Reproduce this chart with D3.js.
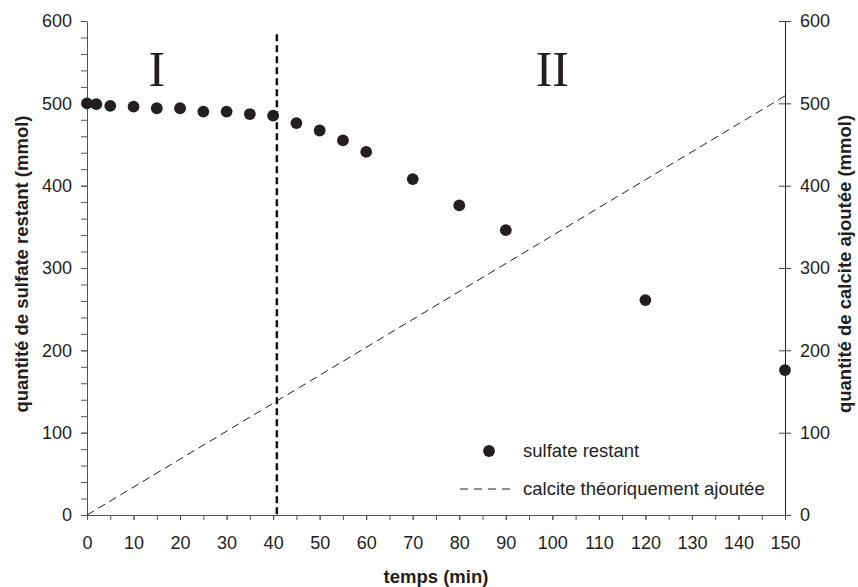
<!DOCTYPE html>
<html><head><meta charset="utf-8">
<script src="https://cdn.jsdelivr.net/npm/d3@7"></script>
<style>
body{margin:0;background:#fff;}
svg{display:block;}
.sans{font-family:"Liberation Sans",Arial,sans-serif;}
</style></head>
<body>
<svg id="chart" width="858" height="587"></svg>
<script>
// ---- data ----
const times = [0, 2, 5, 10, 15, 20, 25, 30, 35, 40, 45, 50, 55, 60, 70, 80, 90, 120, 150];
const sulfate = [500, 499, 497, 496, 494, 494, 490, 490, 487, 485, 476, 467, 455, 441, 408, 376, 346, 261, 176];
const calciteTimes = [0, 150];
const calcite = [0, 509];
const dividerTime = 40.8;
const dividerTop = 584;
const xTicks = [0, 10, 20, 30, 40, 50, 60, 70, 80, 90, 100, 110, 120, 130, 140, 150];
const yTicks = [0, 100, 200, 300, 400, 500, 600];
const phaseLabels = ["I", "II"];
const phaseX = [15, 100];
const legendLabels = ["sulfate restant", "calcite théoriquement ajoutée"];

const svg = d3.select("#chart");
const x = d3.scaleLinear().domain([0, 150]).range([87, 785]);
const y = d3.scaleLinear().domain([0, 600]).range([515, 21]);
const y2 = d3.scaleLinear().domain([0, 600]).range([515, 21]);

const axisColor = "#555";
const textColor = "#231f20";
const SANS = '"Liberation Sans",Arial,sans-serif';
const SERIF = '"Liberation Serif","DejaVu Serif",serif';

function styleText(g, size) {
  g.selectAll("text").attr("font-size", size).attr("fill", textColor).style("font-family", SANS);
}

// left axis minor ticks
const gLm = svg.append("g").attr("transform", `translate(${x(0)},0)`)
  .call(d3.axisLeft(y).tickValues(d3.range(0, 601, 20)).tickSize(6).tickFormat(""));
gLm.select(".domain").remove();
gLm.selectAll("line").attr("stroke", axisColor);
// left axis
const gL = svg.append("g").attr("transform", `translate(${x(0)},0)`)
  .call(d3.axisLeft(y).tickValues(yTicks).tickSize(6).tickPadding(9).tickSizeOuter(0));
gL.select(".domain").attr("stroke", axisColor);
gL.selectAll("line").attr("stroke", axisColor);
styleText(gL, 18);

// right axis
const gR = svg.append("g").attr("transform", `translate(${x(150)},0)`)
  .call(d3.axisRight(y2).tickValues(yTicks).tickSize(6).tickPadding(9).tickSizeOuter(0));
gR.select(".domain").attr("stroke", "#222");
gR.selectAll(".tick line").attr("x1", -6).attr("x2", 6).attr("stroke", "#444");
styleText(gR, 18);

// x axis minor
const gXm = svg.append("g").attr("transform", `translate(0,${y(0)})`)
  .call(d3.axisBottom(x).tickValues(d3.range(0, 151, 5)).tickSize(5).tickFormat(""));
gXm.select(".domain").remove();
gXm.selectAll("line").attr("stroke", axisColor);
// x axis
const gX = svg.append("g").attr("transform", `translate(0,${y(0)})`)
  .call(d3.axisBottom(x).tickValues(xTicks).tickSize(5).tickPadding(16).tickSizeOuter(0));
gX.select(".domain").attr("stroke", axisColor);
gX.selectAll("line").attr("stroke", axisColor);
styleText(gX, 18);

// axis titles
svg.append("text").attr("x", x(75)).attr("y", 583).attr("text-anchor", "middle")
  .style("font-family", SANS).attr("font-size", 18.5).attr("font-weight", "bold").attr("fill", textColor).text("temps (min)");
svg.append("text").attr("transform", `translate(28,264) rotate(-90)`)
  .attr("text-anchor", "middle").style("font-family", SANS).attr("font-size", 18.5).attr("font-weight", "bold").attr("fill", textColor)
  .text("quantité de sulfate restant (mmol)");
svg.append("text").attr("transform", `translate(851,264) rotate(-90)`)
  .attr("text-anchor", "middle").style("font-family", SANS).attr("font-size", 18.5).attr("font-weight", "bold").attr("fill", textColor)
  .text("quantité de calcite ajoutée (mmol)");

// calcite line
svg.append("path")
  .datum(calciteTimes.map((t, i) => [t, calcite[i]]))
  .attr("d", d3.line().x(d => x(d[0])).y(d => y2(d[1])))
  .attr("fill", "none").attr("stroke", "#231f20").attr("stroke-width", 1).attr("stroke-dasharray", "8,5");

// divider
svg.append("line").attr("x1", x(dividerTime)).attr("x2", x(dividerTime))
  .attr("y1", y(dividerTop)).attr("y2", y(0))
  .attr("stroke", "#111").attr("stroke-width", 2.5).attr("stroke-dasharray", "7,4");

// phase labels
svg.selectAll(".phase").data(phaseLabels).enter().append("text")
  .attr("x", (d, i) => x(phaseX[i])).attr("y", 86).attr("text-anchor", "middle")
  .style("font-family", SERIF).attr("font-size", 50)
  .attr("fill", textColor).text(d => d);

// points
svg.selectAll(".pt").data(times).enter().append("circle")
  .attr("cx", d => x(d)).attr("cy", (d, i) => y(sulfate[i])).attr("r", 5.9)
  .attr("fill", "#231f20");

// legend
const lg = svg.append("g");
lg.append("circle").attr("cx", 489).attr("cy", 451).attr("r", 5.9).attr("fill", "#231f20");
lg.append("line").attr("x1", 460).attr("x2", 513).attr("y1", 489).attr("y2", 489)
  .attr("stroke", "#231f20").attr("stroke-width", 1).attr("stroke-dasharray", "8,6");
lg.selectAll(".lt").data(legendLabels).enter().append("text")
  .attr("x", 523).attr("y", (d, i) => 451 + i * 38).attr("dy", "0.35em")
  .style("font-family", SANS).attr("font-size", 18.5).attr("fill", textColor).text(d => d);
</script>
</body></html>
